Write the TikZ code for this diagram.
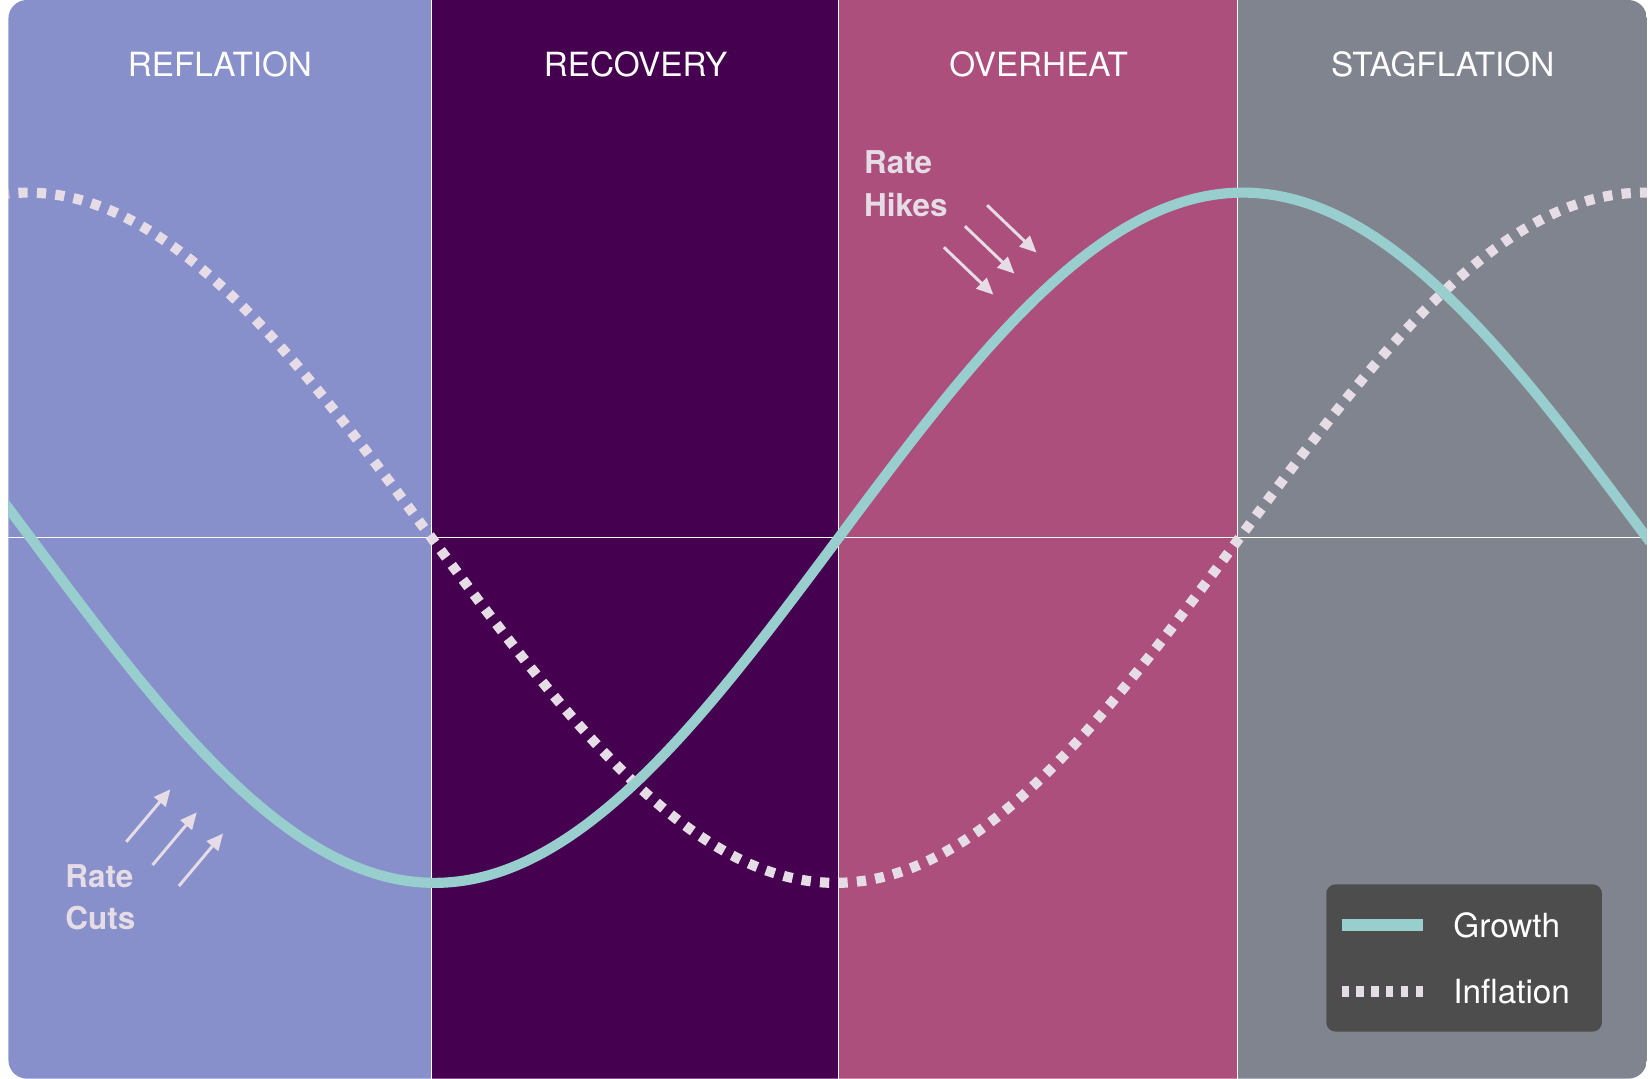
\documentclass[tikz,border=0pt]{standalone}
\usepackage{fontspec}
\setmainfont{TeX Gyre Heros}
\usetikzlibrary{positioning, arrows.meta}
\definecolor{reflation}{HTML}{8890CB}
\definecolor{recovery}{HTML}{45004F}
\definecolor{overheat}{HTML}{AC4F7D}
\definecolor{stagflation}{HTML}{80848F}
\definecolor{growth}{HTML}{98CFCE}
\definecolor{inflation}{HTML}{E6DCE6}
\definecolor{legendbg}{HTML}{4D4D4D}
\tikzset{
  phase/.style = {font=\fontsize{18}{21}\selectfont, text=white, anchor=center},
  growth_line/.style = {growth, line width=5.5pt},
  inflation_line/.style = {inflation, line width=5.5pt, dash pattern=on 5pt off 5pt},
  note/.style = {font=\bfseries\fontsize{17}{20}\selectfont, text=inflation, align=left, anchor=north west},
  rate_arrow/.style = {inflation, line width=1.6pt, -{Triangle[length=9pt,width=8pt]}},
  legend_text/.style = {font=\fontsize{18}{21}\selectfont, text=white, anchor=west}
}
\begin{document}
\begin{tikzpicture}[x=0.02cm, y=-0.02cm]
  \useasboundingbox (0,0) rectangle (1568,1025);

  % Phases
  \begin{scope}
    \clip[rounded corners=10pt] (8,0) rectangle (1565,1025);
    \fill[reflation] (8,0) rectangle (410,1025);
    \fill[recovery] (410,0) rectangle (797,1025);
    \fill[overheat] (797,0) rectangle (1176,1025);
    \fill[stagflation] (1176,0) rectangle (1565,1025);
  \end{scope}
  \foreach \x in {410,797,1176}
    \draw[white, line width=0.6pt] (\x,0) -- (\x,1025);
  \draw[white, line width=0.6pt] (8,511) -- (1565,511);

  \node[phase] (reflation_t) at (209,61) {REFLATION};
  \node[phase] (recovery_t) at (604,61) {RECOVERY};
  \node[phase] (overheat_t) at (987,61) {OVERHEAT};
  \node[phase] (stagflation_t) at (1371,61) {STAGFLATION};

  % Curves
  \begin{scope}
    \clip (8,0) rectangle (1565,1025);
    \draw[inflation_line] plot[domain=0:1568, samples=150, smooth]
      (\x, {511+328*sin((\x-410)/1536*360)});
    \draw[growth_line] plot[domain=0:1568, samples=150, smooth]
      (\x, {511-328*sin((\x-797)/1536*360)});
  \end{scope}

  % Rate notes
  \node[note] (cuts) at (56,815) {Rate\\[3pt]Cuts};
  \node[note] (hikes) at (815,137) {Rate\\[3pt]Hikes};
  \foreach \dx/\dy [count=\i] in {0/0,25/22,50/42} {
    \coordinate (c_s\i) at (120+\dx,800+\dy);
    \coordinate (c_e\i) at (162+\dx,750+\dy);
    \draw[rate_arrow] (c_s\i) -- (c_e\i);
  }
  \foreach \dx/\dy [count=\i] in {0/0,-21/20,-41/40} {
    \coordinate (h_s\i) at (938+\dx,195+\dy);
    \coordinate (h_e\i) at (985+\dx,240+\dy);
    \draw[rate_arrow] (h_s\i) -- (h_e\i);
  }

  % Legend
  \node[fill=legendbg, rounded corners=5pt, minimum width=5.24cm, minimum height=2.8cm,
        anchor=north west] (legend) at (1260,840) {};
  \coordinate (g_a) at (1275,879);
  \coordinate (g_b) at (1352,879);
  \coordinate (i_a) at (1275,942);
  \coordinate (i_b) at (1352,942);
  \draw[growth_line, line width=6pt] (g_a) -- (g_b);
  \draw[inflation_line, line width=6pt, dash pattern=on 4pt off 4pt] (i_a) -- (i_b);
  \node[legend_text] (growth_l) at (1375,879) {Growth};
  \node[legend_text] (inflation_l) at (1375,942) {Inflation};
\end{tikzpicture}
\end{document}
